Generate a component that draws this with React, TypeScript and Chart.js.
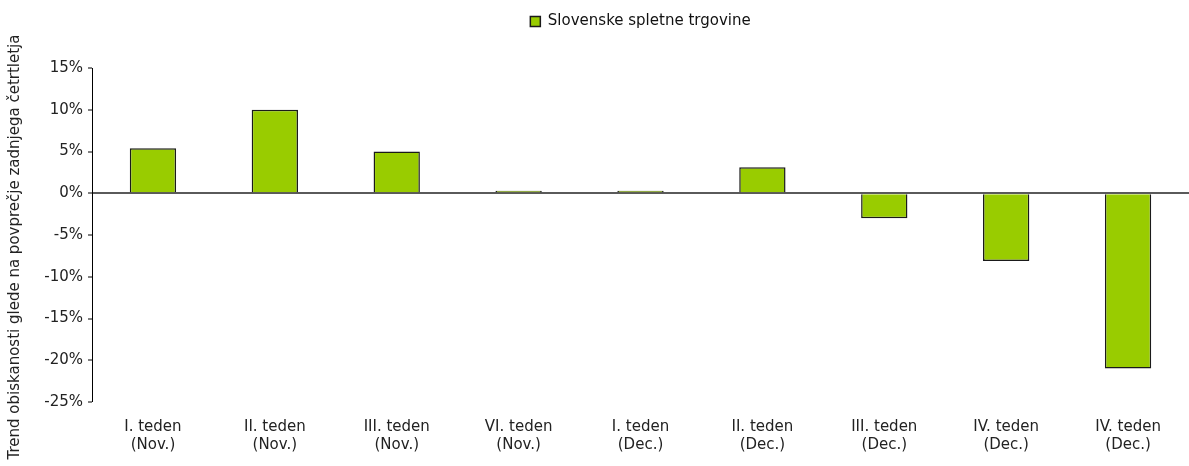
import React, { useEffect, useRef } from "react";
import { Chart, registerables } from "chart.js";

Chart.register(...registerables);

const categories: string[][] = [
  ["I. teden", "(Nov.)"],
  ["II. teden", "(Nov.)"],
  ["III. teden", "(Nov.)"],
  ["VI. teden", "(Nov.)"],
  ["I. teden", "(Dec.)"],
  ["II. teden", "(Dec.)"],
  ["III. teden", "(Dec.)"],
  ["IV. teden", "(Dec.)"],
  ["IV. teden", "(Dec.)"],
];
const seriesName = "Slovenske spletne trgovine";
const values: number[] = [5.4, 10.0, 5.0, 0.3, 0.3, 3.1, -3.0, -8.1, -21.0];
const yTitle = "Trend obiskanosti glede na povprečje zadnjega četrtletja";

const FONT = "'DejaVu Sans', Verdana, sans-serif";
const FS = 15;

const layoutPlugin = {
  id: "layoutTweaks",
  beforeInit(chart: any) {
    const legend = chart.legend;
    if (legend) {
      const orig = legend.fit;
      legend.fit = function () {
        orig.call(this);
        this.height = 68;
      };
    }
  },
  afterLayout(chart: any) {
    const legend = chart.legend;
    if (legend && chart.chartArea) {
      legend.left = chart.chartArea.left;
      legend.right = chart.chartArea.right;
    }
  },
  afterDraw(chart: any) {
    const ctx = chart.ctx;
    ctx.save();
    ctx.translate(15, 247);
    ctx.rotate(-Math.PI / 2);
    ctx.font = `${FS}px ${FONT}`;
    ctx.fillStyle = "#222";
    ctx.textAlign = "center";
    ctx.textBaseline = "middle";
    ctx.fillText(yTitle, 0, 0);
    ctx.restore();
  },
};

export default function App() {
  const ref = useRef<HTMLCanvasElement | null>(null);
  useEffect(() => {
    document.body.style.margin = "0";
    const canvas = ref.current!;
    const chart = new Chart(canvas, {
      type: "bar",
      data: {
        labels: categories,
        datasets: [
          {
            label: seriesName,
            data: values,
            backgroundColor: "#99CC00",
            borderColor: "#1a1a1a",
            borderWidth: 1.5,
            barPercentage: 0.76,
            categoryPercentage: 0.5,
          },
        ],
      },
      options: {
        animation: false,
        responsive: false,
        maintainAspectRatio: false,
        layout: { padding: { top: 0, right: 0, left: 0, bottom: 0 } },
        plugins: {
          legend: {
            display: true,
            position: "top",
            labels: {
              font: { family: FONT, size: FS },
              color: "#111",
              boxWidth: 10,
              boxHeight: 10,
              padding: 14,
            },
          },
          tooltip: { enabled: false },
        },
        scales: {
          x: {
            grid: { display: false },
            border: { display: false },
            ticks: {
              font: { family: FONT, size: FS },
              color: "#222",
              maxRotation: 0,
              autoSkip: false,
              padding: 8,
            },
            afterFit: (s: any) => {
              s.height = 64;
            },
          },
          y: {
            min: -25,
            max: 15,
            ticks: {
              stepSize: 5,
              font: { family: FONT, size: FS },
              color: "#222",
              padding: 5,
              callback: (v: any) => `${v}%`,
            },
            grid: {
              drawOnChartArea: true,
              color: (c: any) => (c.tick && c.tick.value === 0 ? "#5a5a5a" : "rgba(0,0,0,0)"),
              lineWidth: (c: any) => (c.tick && c.tick.value === 0 ? 2 : 0),
              drawTicks: true,
              tickLength: 4,
              tickColor: "#000",
              tickWidth: 1,
            },
            border: { display: true, color: "#000", width: 1 },
            title: { display: false },
            afterFit: (s: any) => {
              s.width = 92;
            },
          },
        },
      },
      plugins: [layoutPlugin],
    });
    return () => chart.destroy();
  }, []);
  return (
    <div style={{ width: 1189, height: 466 }}>
      <canvas ref={ref} width={1189} height={466} style={{ display: "block" }} />
    </div>
  );
}
